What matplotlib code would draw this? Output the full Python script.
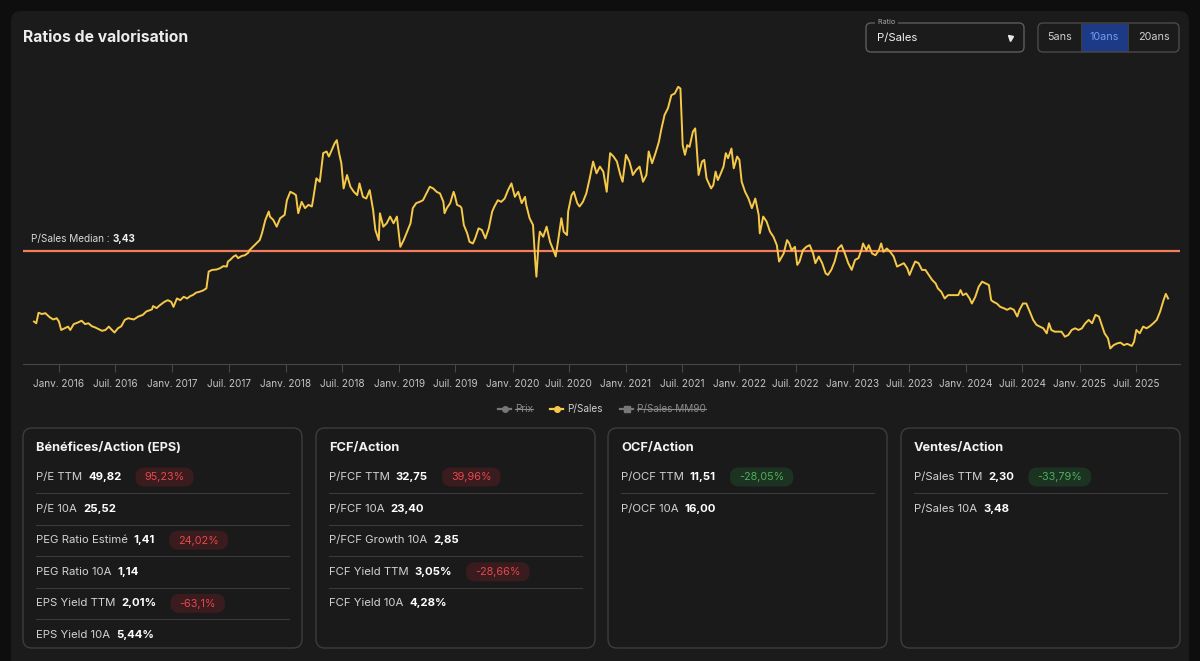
#!/usr/bin/env python3
"""Ratios de valorisation: P/Sales over 10 years with its median, plus the ratio cards."""
import matplotlib
matplotlib.use("Agg")
import matplotlib.pyplot as plt
from matplotlib.patches import FancyBboxPatch

plt.rcParams["font.family"] = ["Inter", "DejaVu Sans"]

# ---- data (decimal year, P/Sales) ----
dates = [
    2015.78, 2015.80, 2015.82, 2015.85, 2015.88, 2015.92, 2015.95, 2015.98, 2016.00, 2016.02,
    2016.05, 2016.08, 2016.10, 2016.13, 2016.16, 2016.20, 2016.23, 2016.26, 2016.29, 2016.32,
    2016.35, 2016.38, 2016.41, 2016.44, 2016.46, 2016.49, 2016.52, 2016.55, 2016.58, 2016.61,
    2016.66, 2016.70, 2016.74, 2016.77, 2016.82, 2016.83, 2016.86, 2016.89, 2016.93, 2016.96,
    2016.99, 2017.01, 2017.04, 2017.07, 2017.10, 2017.13, 2017.16, 2017.18, 2017.21, 2017.24,
    2017.27, 2017.30, 2017.32, 2017.35, 2017.39, 2017.42, 2017.45, 2017.48, 2017.49, 2017.51,
    2017.54, 2017.56, 2017.58, 2017.61, 2017.64, 2017.67, 2017.68, 2017.71, 2017.74, 2017.77,
    2017.79, 2017.82, 2017.85, 2017.86, 2017.89, 2017.92, 2017.95, 2017.99, 2018.01, 2018.04,
    2018.07, 2018.09, 2018.11, 2018.14, 2018.17, 2018.20, 2018.23, 2018.24, 2018.27, 2018.30,
    2018.33, 2018.36, 2018.38, 2018.40, 2018.43, 2018.45, 2018.47, 2018.49, 2018.51, 2018.54,
    2018.57, 2018.60, 2018.63, 2018.65, 2018.68, 2018.71, 2018.74, 2018.77, 2018.79, 2018.82,
    2018.83, 2018.86, 2018.89, 2018.92, 2018.95, 2018.98,
    2019.01, 2019.04, 2019.07, 2019.10, 2019.12, 2019.15, 2019.18, 2019.21, 2019.24, 2019.27,
    2019.30, 2019.33, 2019.36, 2019.39, 2019.40, 2019.42, 2019.45, 2019.48, 2019.49, 2019.51,
    2019.54, 2019.55, 2019.57, 2019.60, 2019.62, 2019.65, 2019.67, 2019.70, 2019.73, 2019.76,
    2019.79, 2019.82, 2019.84, 2019.87, 2019.90, 2019.93, 2019.96, 2019.99, 2020.02, 2020.05,
    2020.08, 2020.11, 2020.12, 2020.15, 2020.18, 2020.20, 2020.21, 2020.23, 2020.24, 2020.27,
    2020.30, 2020.33, 2020.36, 2020.38, 2020.40, 2020.43, 2020.45, 2020.48, 2020.49, 2020.52,
    2020.54, 2020.57, 2020.59, 2020.62, 2020.65, 2020.68, 2020.71, 2020.74, 2020.77, 2020.80,
    2020.83, 2020.84, 2020.86, 2020.89, 2020.92, 2020.95, 2020.97, 2021.00, 2021.03, 2021.05,
    2021.06, 2021.09, 2021.12, 2021.15, 2021.18, 2021.20, 2021.23, 2021.26, 2021.29, 2021.31,
    2021.34, 2021.37, 2021.40, 2021.43, 2021.46, 2021.48, 2021.50, 2021.52, 2021.54, 2021.56,
    2021.59, 2021.61, 2021.62, 2021.64, 2021.67, 2021.69, 2021.71, 2021.73, 2021.75, 2021.77,
    2021.79, 2021.81, 2021.83, 2021.86, 2021.88, 2021.90, 2021.93, 2021.95, 2021.98, 2022.00,
    2022.02, 2022.05, 2022.08, 2022.11, 2022.14, 2022.17, 2022.18, 2022.21, 2022.24, 2022.27,
    2022.30, 2022.33, 2022.35,
    2022.39, 2022.42, 2022.44, 2022.46, 2022.49, 2022.51, 2022.53, 2022.56, 2022.59, 2022.62,
    2022.65, 2022.67, 2022.70, 2022.73, 2022.76, 2022.78, 2022.81, 2022.84, 2022.87, 2022.90,
    2022.93, 2022.96, 2022.99, 2023.02, 2023.05, 2023.08, 2023.09, 2023.12, 2023.14, 2023.17,
    2023.20, 2023.23, 2023.25, 2023.27, 2023.30, 2023.33, 2023.36, 2023.39, 2023.42, 2023.45,
    2023.48, 2023.50, 2023.53, 2023.55, 2023.58, 2023.61, 2023.64, 2023.67, 2023.70, 2023.73,
    2023.75, 2023.78, 2023.81, 2023.84, 2023.87, 2023.90, 2023.93, 2023.95, 2023.97, 2024.00,
    2024.03, 2024.05, 2024.08, 2024.11, 2024.14, 2024.17, 2024.20, 2024.22, 2024.24, 2024.27,
    2024.30, 2024.33, 2024.36, 2024.39, 2024.42, 2024.45, 2024.47, 2024.50, 2024.53, 2024.56,
    2024.59, 2024.62, 2024.65, 2024.68, 2024.71, 2024.73, 2024.75, 2024.78, 2024.81, 2024.84,
    2024.87, 2024.90, 2024.93, 2024.96, 2024.99, 2025.02, 2025.05, 2025.08, 2025.11, 2025.14,
    2025.17, 2025.19, 2025.22, 2025.25, 2025.27, 2025.30, 2025.33, 2025.36, 2025.39, 2025.42,
    2025.46, 2025.48, 2025.50, 2025.53, 2025.56, 2025.59, 2025.62, 2025.65, 2025.68, 2025.71,
    2025.74, 2025.76, 2025.78,
]
ps_ratio = [
    1.75, 1.71, 1.96, 1.93, 1.95, 1.85, 1.80, 1.83, 1.75, 1.55,
    1.59, 1.63, 1.55, 1.69, 1.72, 1.77, 1.69, 1.71, 1.64, 1.61,
    1.57, 1.53, 1.55, 1.63, 1.57, 1.49, 1.59, 1.64, 1.79, 1.83,
    1.80, 1.87, 1.91, 1.99, 2.04, 2.12, 2.07, 2.14, 2.22, 2.26,
    2.22, 2.10, 2.30, 2.26, 2.34, 2.30, 2.36, 2.38, 2.44, 2.46,
    2.49, 2.54, 2.94, 2.98, 2.99, 3.02, 3.07, 3.06, 3.18, 3.22,
    3.30, 3.33, 3.26, 3.31, 3.33, 3.39, 3.45, 3.53, 3.61, 3.69,
    3.85, 4.17, 4.37, 4.25, 4.17, 4.01, 4.21, 4.29, 4.64, 4.84,
    4.80, 4.76, 4.33, 4.60, 4.45, 4.53, 4.49, 4.64, 5.16, 5.08,
    5.76, 5.80, 5.68, 5.80, 5.99, 6.07, 5.76, 5.52, 4.92, 5.24,
    4.96, 4.84, 4.76, 5.04, 4.72, 4.68, 4.88, 4.41, 3.93, 3.69,
    4.33, 4.01, 4.09, 4.25, 4.09, 4.25,
    3.53, 3.69, 3.89, 4.09, 4.45, 4.57, 4.60, 4.64, 4.80, 4.96,
    4.92, 4.84, 4.80, 4.60, 4.33, 4.45, 4.57, 4.84, 4.76, 4.53,
    4.49, 4.45, 4.05, 3.85, 3.65, 3.61, 3.73, 3.97, 3.93, 3.73,
    3.97, 4.37, 4.49, 4.64, 4.60, 4.68, 4.88, 5.04, 4.72, 4.84,
    4.57, 4.72, 4.53, 4.21, 4.05, 3.18, 2.82, 3.65, 3.89, 3.77,
    4.01, 3.65, 3.45, 3.30, 3.65, 4.21, 3.89, 3.81, 4.37, 4.76,
    4.84, 4.57, 4.49, 4.60, 4.80, 5.16, 5.56, 5.28, 5.44, 5.32,
    4.84, 5.16, 5.76, 5.68, 5.56, 5.24, 5.08, 5.72, 5.56, 5.36,
    5.24, 5.36, 5.44, 5.08, 5.24, 5.80, 5.52, 5.76, 6.03, 6.31,
    6.67, 6.83, 7.14, 7.18, 7.34, 7.30, 5.95, 5.72, 5.95, 5.91,
    6.27, 6.35, 6.03, 5.24, 5.56, 5.60, 5.16, 5.04, 4.92, 5.00,
    5.32, 5.12, 5.24, 5.44, 5.76, 5.64, 5.87, 5.40, 5.68, 5.60,
    5.08, 4.84, 4.68, 4.45, 4.68, 4.29, 3.85, 4.25, 4.13, 3.89,
    3.77, 3.57, 3.18,
    3.37, 3.69, 3.61, 3.45, 3.53, 3.10, 3.18, 3.45, 3.53, 3.57,
    3.37, 3.14, 3.30, 3.14, 2.90, 2.86, 2.98, 3.18, 3.49, 3.57,
    3.37, 3.14, 2.98, 3.22, 3.26, 3.49, 3.61, 3.45, 3.57, 3.37,
    3.33, 3.45, 3.61, 3.41, 3.49, 3.41, 3.30, 3.06, 3.10, 3.14,
    3.02, 2.86, 3.06, 3.18, 3.14, 2.98, 2.98, 2.86, 2.74, 2.66,
    2.54, 2.46, 2.30, 2.38, 2.38, 2.38, 2.38, 2.50, 2.38, 2.42,
    2.30, 2.18, 2.34, 2.58, 2.70, 2.66, 2.62, 2.26, 2.22, 2.18,
    2.10, 2.07, 2.03, 2.07, 2.03, 1.87, 2.03, 2.18, 2.18, 1.99,
    1.79, 1.67, 1.63, 1.59, 1.47, 1.71, 1.55, 1.51, 1.51, 1.51,
    1.39, 1.43, 1.55, 1.59, 1.55, 1.59, 1.71, 1.79, 1.71, 1.91,
    1.87, 1.71, 1.47, 1.35, 1.11, 1.19, 1.23, 1.25, 1.19, 1.22,
    1.17, 1.27, 1.55, 1.47, 1.63, 1.59, 1.64, 1.71, 1.79, 1.99,
    2.26, 2.41, 2.30,
]
median_ps = 3.43
tick_years = list(range(2016, 2026))

cards = [
    ("Bénéfices/Action (EPS)", [
        ("P/E TTM", "49,82", "95,23%"),
        ("P/E 10A", "25,52", None),
        ("PEG Ratio Estimé", "1,41", "24,02%"),
        ("PEG Ratio 10A", "1,14", None),
        ("EPS Yield TTM", "2,01%", "-63,1%"),
        ("EPS Yield 10A", "5,44%", None),
    ]),
    ("FCF/Action", [
        ("P/FCF TTM", "32,75", "39,96%"),
        ("P/FCF 10A", "23,40", None),
        ("P/FCF Growth 10A", "2,85", None),
        ("FCF Yield TTM", "3,05%", "-28,66%"),
        ("FCF Yield 10A", "4,28%", None),
    ]),
    ("OCF/Action", [
        ("P/OCF TTM", "11,51", "-28,05%"),
        ("P/OCF 10A", "16,00", None),
    ]),
    ("Ventes/Action", [
        ("P/Sales TTM", "2,30", "-33,79%"),
        ("P/Sales 10A", "3,48", None),
    ]),
]
# badge tone: red for the first two cards, green for the last two
card_good = [False, False, True, True]

# ---- canvas ----
W, H = 1200, 661
PANEL = "#1b1b1b"
fig = plt.figure(figsize=(12, 6.61), dpi=100, facecolor="#0e0e0e")
bg = fig.add_axes([0, 0, 1, 1], zorder=0)
bg.set_xlim(0, W); bg.set_ylim(H, 0); bg.axis("off")
rend = fig.canvas.get_renderer()


def rbox(x, y, w, h, r, fc, ec="none", lw=1.0, z=1):
    bg.add_patch(FancyBboxPatch((x + r, y + r), w - 2 * r, h - 2 * r,
                                boxstyle=f"round,pad={r}", fc=fc, ec=ec, lw=lw, zorder=z))


def width(t):
    return t.get_window_extent(renderer=rend).width


rbox(11, 11, 1178, 700, 10, PANEL)
bg.text(23, 37.5, "Ratios de valorisation", color="#ececec", fontsize=11.3,
        fontweight="bold", va="center", zorder=3)

# ratio selector
rbox(866, 23, 158, 29, 5, "none", ec="#5c5c5c", lw=1, z=2)
bg.text(876, 21.5, " Ratio ", color="#a8a8a8", fontsize=5.2, va="center", zorder=3,
        bbox=dict(fc=PANEL, ec="none", pad=0.5))
bg.text(877, 37.5, "P/Sales", color="#f0f0f0", fontsize=8.2, va="center", zorder=3)
bg.plot([1010], [37.5], marker="v", ms=3.6, color="#e8e8e8", zorder=3)

# period buttons
bg.add_patch(plt.Rectangle((1081, 23.5), 47, 28, fc="#1d3a86", ec="none", zorder=2))
rbox(1038, 23, 141, 29, 5, "none", ec="#4a4a4a", lw=1, z=3)
for xs in (1081, 1128):
    bg.plot([xs, xs], [23.5, 51.5], color="#3e3e3e", lw=0.8, zorder=3)
for label, xc, col in (("5ans", 1059.5, "#cfcfcf"), ("10ans", 1104.5, "#6f9df5"),
                       ("20ans", 1153.5, "#cfcfcf")):
    bg.text(xc, 37.5, label, color=col, fontsize=7.8, ha="center", va="center", zorder=4)

# ---- chart ----
x0, x1, ytop, ybot = 23, 1180, 70, 364
ax = fig.add_axes([x0 / W, 1 - ybot / H, (x1 - x0) / W, (ybot - ytop) / H], zorder=2)
ax.patch.set_alpha(0)
ax.plot(dates, ps_ratio, color="#f7c948", lw=1.4, zorder=3)
ax.axhline(median_ps, color="#f27e5b", lw=1.6, zorder=2)
ax.set_xlim(2015.683, 2025.885)
ax.set_ylim(0.74, 7.74)
ticks, labels = [], []
for y in tick_years:
    ticks += [y, y + 0.496]
    labels += [f"Janv. {y}", f"Juil. {y}"]
ax.set_xticks(ticks)
ax.set_xticklabels(labels)
ax.set_yticks([])
for s in ("top", "right", "left"):
    ax.spines[s].set_visible(False)
ax.spines["bottom"].set_color("#474747")
ax.tick_params(axis="x", colors="#474747", length=6, width=0.8, pad=5,
               labelcolor="#c4c4c4", labelsize=7.2)

# median label
t = bg.text(31, 239, "P/Sales Median : ", color="#d8d8d8", fontsize=7.2, va="center", zorder=3)
bg.text(31 + width(t), 239, f"{median_ps:.2f}".replace(".", ","), color="#f0f0f0",
        fontsize=7.2, fontweight="bold", va="center", zorder=3)

# legend
ly = 409
for xm, name, col, tcol, mk, struck in ((498, "Prix", "#777777", "#8a8a8a", "o", True),
                                        (550, "P/Sales", "#f7c948", "#cfcfcf", "o", False),
                                        (620, "P/Sales MM90", "#777777", "#8a8a8a", "s", True)):
    bg.plot([xm, xm + 13], [ly, ly], color=col, lw=1.6, zorder=3)
    bg.plot([xm + 6.5], [ly], marker=mk, ms=4, color=col, zorder=3)
    tt = bg.text(xm + 17, ly, name, color=tcol, fontsize=7.2, va="center", zorder=3)
    if struck:
        bg.plot([xm + 17, xm + 17 + width(tt)], [ly, ly], color=tcol, lw=0.8, zorder=4)

# ---- cards ----
card_x = [23, 316, 608, 901]
cw, cy, ch = 279, 428, 220
row0, step = 477, 31.6
for (title, rows), cx, good in zip(cards, card_x, card_good):
    rbox(cx, cy, cw, ch, 9, "#1a1a1a", ec="#3d3d3d", lw=1, z=1)
    bg.text(cx + 13, 448, title, color="#f2f2f2", fontsize=9.2, fontweight="bold",
            va="center", zorder=3)
    for i, (lab, val, badge) in enumerate(rows):
        ry = row0 + i * step
        t1 = bg.text(cx + 13, ry, lab, color="#d2d2d2", fontsize=8.2, va="center", zorder=3)
        xv = cx + 13 + width(t1) + 6
        t2 = bg.text(xv, ry, val, color="#ffffff", fontsize=8.2, fontweight="bold",
                     va="center", zorder=3)
        if badge:
            xb = xv + width(t2) + 14
            tb = bg.text(xb, ry + 0.5, badge, fontsize=7.8, va="center", ha="center",
                         color="#4cae5c" if good else "#e5484d", zorder=4)
            bw = width(tb) + 18
            rbox(xb, ry - 9.5, bw, 19, 9, "#1c3322" if good else "#3a1b1e", z=2)
            tb.set_x(xb + bw / 2)
        if i < len(rows) - 1:
            bg.plot([cx + 13, cx + cw - 13], [ry + 16, ry + 16], color="#3a3a3a",
                    lw=0.8, zorder=2)

fig.savefig("out.png", dpi=100, facecolor=fig.get_facecolor())
print("wrote out.png")
